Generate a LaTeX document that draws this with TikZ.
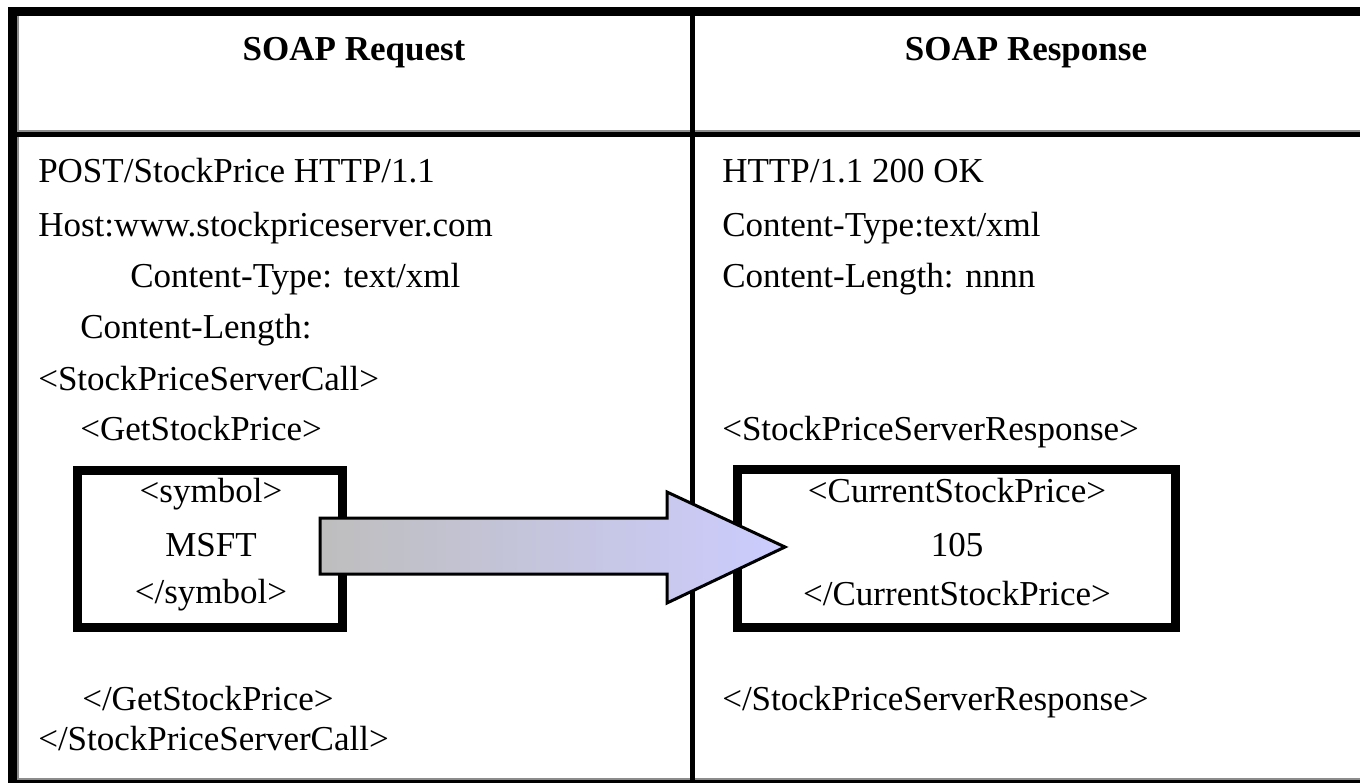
\documentclass[tikz,border=0pt]{standalone}
\usepackage{fontspec}
\setmainfont{Liberation Serif}
\usetikzlibrary{calc}
\definecolor{shaftgray}{RGB}{190,190,190}
\definecolor{headblue}{RGB}{204,204,255}
\definecolor{edgegray}{RGB}{140,140,140}
\begin{document}
\begin{tikzpicture}[x=0.75pt,y=-0.75pt,
  txt/.style={font=\fontsize{26.25pt}{30pt}\selectfont, inner sep=0pt, anchor=base west},
  ctxt/.style={txt, anchor=base},
  hdr/.style={ctxt, font=\fontsize{26.25pt}{30pt}\selectfont\bfseries},
  rule/.style={black, line width=6.75pt},
  thinrule/.style={black, line width=3.75pt},
  edge/.style={edgegray, line width=1.5pt},
  valbox/.style={draw=black, line width=6.75pt, inner sep=0pt, fill=white},
  bigarrow/.style={draw=black, line width=2.25pt, line join=miter,
    left color=shaftgray, right color=headblue}
]
\useasboundingbox (0,0) rectangle (1360,782);
% table frame
\draw[edge] (18,16) -- (18,782);
\draw[rule] (12.5,782) -- (12.5,11.5) -- (1360,11.5);
\draw[edge] (17,131) -- (1360,131);
\draw[thinrule] (17,134.5) -- (1360,134.5);
\draw[edge] (17,778.5) -- (1360,778.5);
\draw[black, line width=2.25pt] (8,781) -- (1360,781);
\draw[black, line width=3.75pt] (692.5,16) -- (692.5,782);
% headers
\node[hdr] (hreq) at (354,60) {SOAP Request};
\node[hdr] (hres) at (1026,60) {SOAP Response};
% request column
\node[txt] (r1) at (38,182) {POST/StockPrice HTTP/1.1};
\node[txt] (r2) at (38,236) {Host:www.stockpriceserver.com};
\node[txt] (r3) at (130,287) {Content-Type: text/xml};
\node[txt] (r4) at (80,338) {Content-Length:};
\node[txt] (r5) at (38,390) {<StockPriceServerCall>};
\node[txt] (r6) at (80,440) {<GetStockPrice>};
\node[valbox, minimum width=198.75pt, minimum height=117.75pt] (symbox) at (210,549) {};
\node[ctxt] (s1) at (211,502) {<symbol>};
\node[ctxt] (s2) at (211,556) {MSFT};
\node[ctxt] (s3) at (211,603) {</symbol>};
\node[txt] (r7) at (82,710) {</GetStockPrice>};
\node[txt] (r8) at (38,750) {</StockPriceServerCall>};
% response column
\node[txt] (p1) at (722,182) {HTTP/1.1 200 OK};
\node[txt] (p2) at (722,236) {Content-Type:text/xml};
\node[txt] (p3) at (722,287) {Content-Length: nnnn};
\node[txt] (p4) at (722,440) {<StockPriceServerResponse>};
\node[valbox, minimum width=328.5pt, minimum height=118.5pt] (pricebox) at (956.5,548.5) {};
\node[ctxt] (c1) at (957,502) {<CurrentStockPrice>};
\node[ctxt] (c2) at (957,556) {105};
\node[ctxt] (c3) at (957,605) {</CurrentStockPrice>};
\node[txt] (p5) at (722,710) {</StockPriceServerResponse>};
% big block arrow
\coordinate (arrtail) at (320,546);
\coordinate (arrtip) at (785,547);
\path[bigarrow] ($(arrtail)+(0,-28)$) -- ($(arrtip)+(-118,-29)$) -- ($(arrtip)+(-118,-55)$)
  -- (arrtip) -- ($(arrtip)+(-118,56)$) -- ($(arrtip)+(-118,27)$) -- ($(arrtail)+(0,28)$) -- cycle;
\end{tikzpicture}
\end{document}
